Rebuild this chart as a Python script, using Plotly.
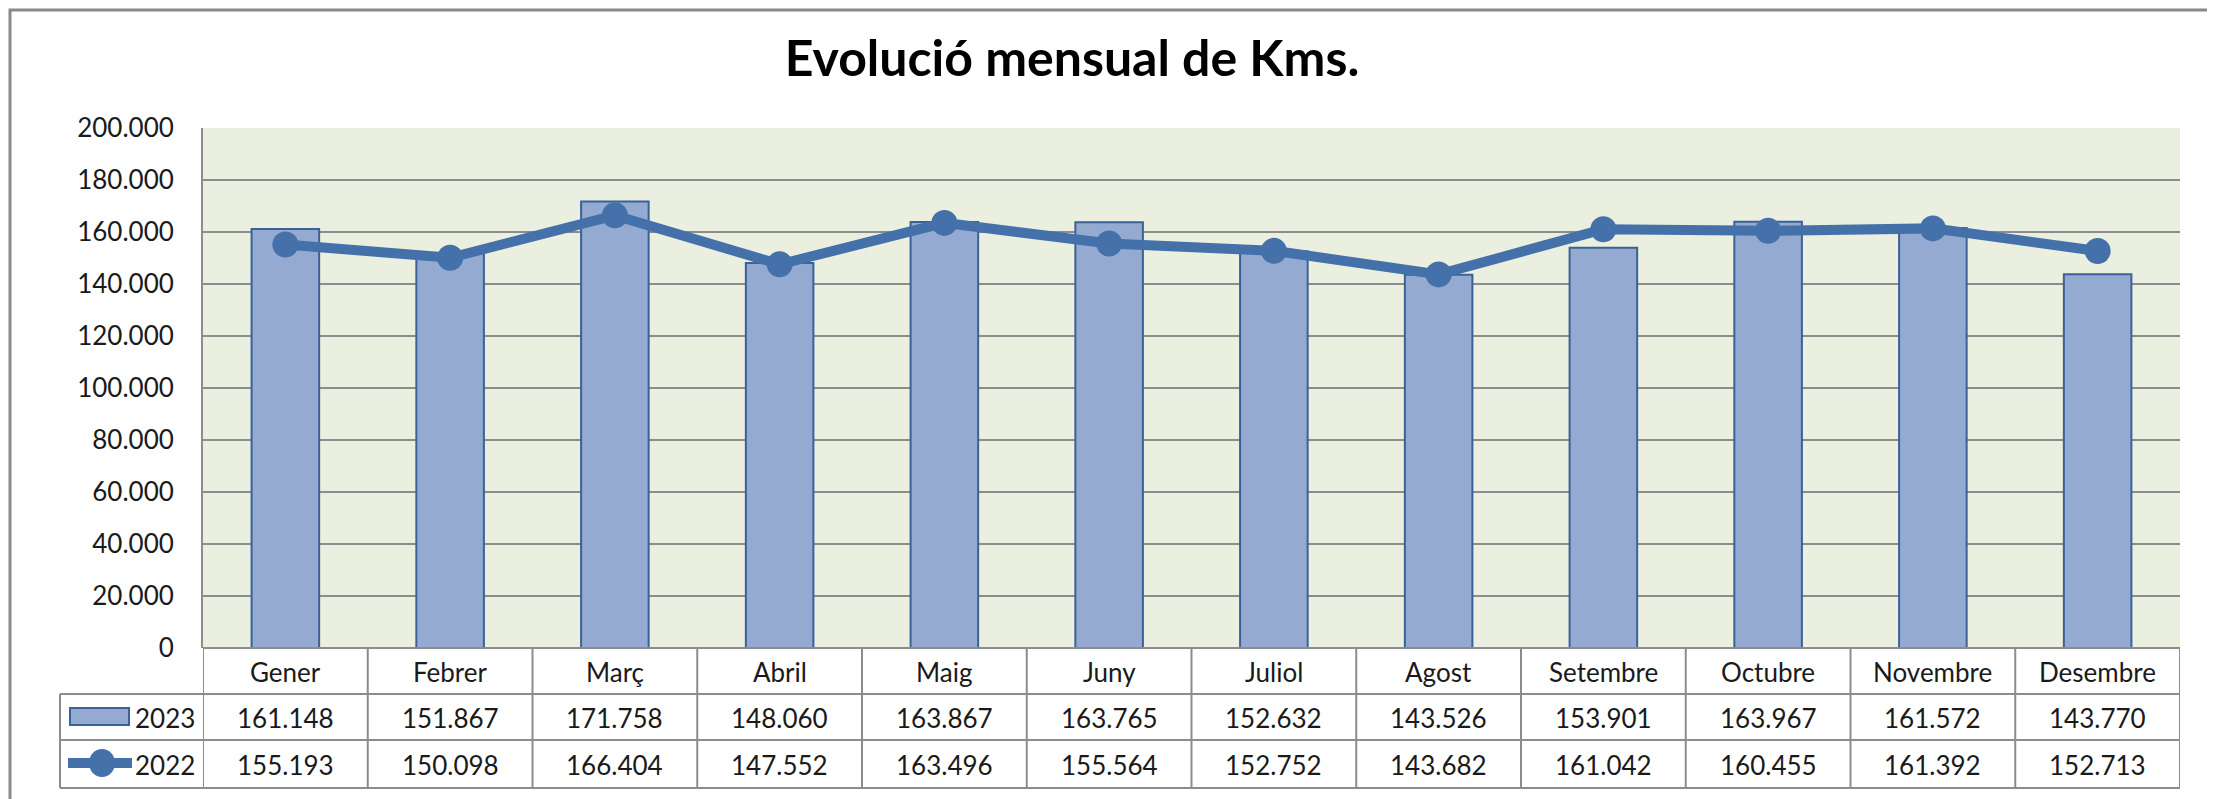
import plotly.graph_objects as go

months = ["Gener", "Febrer", "Març", "Abril", "Maig", "Juny",
          "Juliol", "Agost", "Setembre", "Octubre", "Novembre", "Desembre"]
series_names = ["2023", "2022"]
kms_2023 = [161148, 151867, 171758, 148060, 163867, 163765,
            152632, 143526, 153901, 163967, 161572, 143770]
kms_2022 = [155193, 150098, 166404, 147552, 163496, 155564,
            152752, 143682, 161042, 160455, 161392, 152713]

# page pixel positions (the page body adds an 8px margin around the figure)
OFF = 8
W, H = 2215 - OFF, 799 - OFF
PL, PR, PT, PB = 203, 2180, 128, 648  # plot area in page pixels
FONT = "Lato"
BAR_FILL = "#95AAD1"
BAR_LINE = "#3B6198"
LINE_COL = "#4471A9"
GRID = "#8C8C8C"


def px_x(px):
    return (px - PL) / (PR - PL)


def px_y(py):
    return (PB - py) / (PB - PT)


def fmt(v):
    return f"{v:,}".replace(",", ".")


fig = go.Figure()
fig.add_trace(go.Bar(
    x=months, y=kms_2023, name=series_names[0], width=0.41,
    marker=dict(color=BAR_FILL, line=dict(color=BAR_LINE, width=2)),
))
fig.add_trace(go.Scatter(
    x=months, y=kms_2022, name=series_names[1], mode="lines+markers",
    line=dict(color=LINE_COL, width=10),
    marker=dict(color=LINE_COL, size=26),
))

shapes = []
annotations = []

# outer chart frame
shapes.append(dict(type="rect", xref="paper", yref="paper",
                   x0=px_x(10), x1=px_x(2211), y0=px_y(830), y1=px_y(10),
                   line=dict(color="#8A8A8A", width=3), layer="below"))

# data table grid
row_edges = [648, 694, 740, 788]
for i, ry in enumerate(row_edges):
    x0 = PL if i == 0 else 60
    shapes.append(dict(type="line", xref="paper", yref="paper",
                       x0=px_x(x0), x1=1, y0=px_y(ry), y1=px_y(ry),
                       line=dict(color=GRID, width=2)))
shapes.append(dict(type="line", xref="paper", yref="paper",
                   x0=px_x(60), x1=px_x(60), y0=px_y(694), y1=px_y(788),
                   line=dict(color=GRID, width=2)))
for k in range(len(months) + 1):
    shapes.append(dict(type="line", xref="x", yref="paper",
                       x0=k - 0.5, x1=k - 0.5, y0=px_y(648), y1=px_y(788),
                       line=dict(color=GRID, width=2)))

cell_font = dict(family=FONT, size=26, color="#1a1a1a")
row_centers = [672, 718, 765]
for k, m in enumerate(months):
    for text, ry in ((m, row_centers[0]),
                     (fmt(kms_2023[k]), row_centers[1]),
                     (fmt(kms_2022[k]), row_centers[2])):
        annotations.append(dict(x=k, y=px_y(ry), xref="x", yref="paper",
                                xanchor="center", yanchor="middle",
                                text=text, showarrow=False, font=cell_font))

# legend keys inside the table
shapes.append(dict(type="rect", xref="paper", yref="paper",
                   x0=px_x(70), x1=px_x(129), y0=px_y(725), y1=px_y(708),
                   fillcolor=BAR_FILL, line=dict(color=BAR_LINE, width=2)))
shapes.append(dict(type="line", xref="paper", yref="paper",
                   x0=px_x(68), x1=px_x(132), y0=px_y(763), y1=px_y(763),
                   line=dict(color=LINE_COL, width=10)))
shapes.append(dict(type="circle", xref="paper", yref="paper",
                   x0=px_x(89), x1=px_x(115), y0=px_y(777), y1=px_y(749),
                   fillcolor=LINE_COL, line=dict(color=LINE_COL, width=0)))
for name, ry in zip(series_names, row_centers[1:]):
    annotations.append(dict(x=px_x(197), y=px_y(ry), xref="paper", yref="paper",
                            xanchor="right", yanchor="middle", text=name,
                            showarrow=False, font=cell_font))

fig.update_layout(
    width=W, height=H,
    margin=dict(l=PL - OFF, r=W - (PR - OFF), t=PT - OFF, b=H - (PB - OFF)),
    paper_bgcolor="white",
    plot_bgcolor="#EBEFDF",
    separators=",.",
    showlegend=False,
    bargap=0.59,
    font=dict(family=FONT, color="#1a1a1a"),
    title=dict(text="<b>Evolució mensual de Kms.</b>",
               font=dict(family=FONT, size=50, color="black"),
               x=px_x(1072), xref="paper", xanchor="center",
               y=1 - (58 - OFF) / H, yref="container", yanchor="middle"),
    shapes=shapes,
    annotations=annotations,
)
fig.update_xaxes(showticklabels=False, showgrid=False, zeroline=False,
                 range=[-0.5, len(months) - 0.5])
fig.update_yaxes(range=[0, 200000], dtick=20000, tickformat=",.0f",
                 showgrid=True, gridcolor=GRID, gridwidth=2,
                 showline=True, linecolor=GRID, linewidth=2,
                 zeroline=False, ticklabelstandoff=22,
                 tickfont=dict(family=FONT, size=26, color="#1a1a1a"))

fig.write_html("out.html")
